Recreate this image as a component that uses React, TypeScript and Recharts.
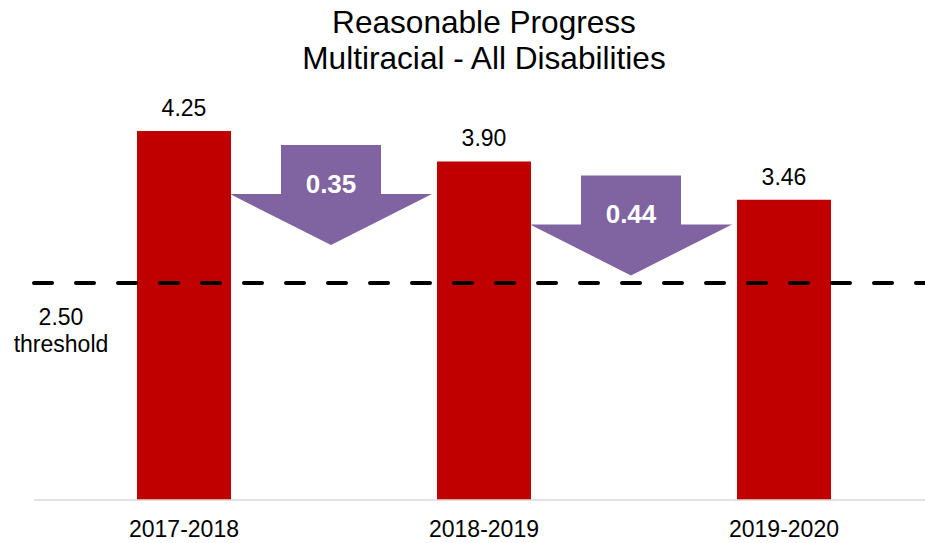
import { Bar, BarChart, LabelList, ReferenceDot, ReferenceLine, XAxis, YAxis } from "recharts"

const years = ["2017-2018", "2018-2019", "2019-2020"]
const scores = [4.25, 3.90, 3.46]
const drops = [0.35, 0.44]
const threshold = 2.5

const FONT = "'Liberation Sans', Arial, sans-serif"

const rows = years.map((year, i) => ({ idx: i, year, score: scores[i] }))

function DownArrow(props: any) {
    const { cx, cy, amount } = props
    const x = cx - 3
    const top = cy + 14
    const shoulder = top + 49
    const tip = shoulder + 51
    const pts = [
        [x - 50, top], [x + 50, top], [x + 50, shoulder], [x + 101, shoulder],
        [x, tip], [x - 101, shoulder], [x - 50, shoulder],
    ].map(p => p.join(",")).join(" ")
    return <g>
        <polygon points={pts} fill="#8064A2" />
        <text x={x} y={top + 39} textAnchor="middle" dominantBaseline="central"
            fill="#fff" fontWeight="bold" fontSize={26} fontFamily={FONT}>{amount.toFixed(2)}</text>
    </g>
}

function ThresholdLabel(props: any) {
    const vb = props.viewBox
    return <g fontFamily={FONT} fontSize={23} fill="#000">
        <text x={vb.x + 27} y={vb.y + 34} textAnchor="middle" dominantBaseline="central">{threshold.toFixed(2)}</text>
        <text x={vb.x + 27} y={vb.y + 61} textAnchor="middle" dominantBaseline="central">threshold</text>
    </g>
}

export default function App() {
    return <div style={{ position: "absolute", left: 0, top: 0, width: 925, height: 543, overflow: "hidden", background: "#fff" }}>
        <div style={{ position: "absolute", left: 0, top: 4, width: 968, textAlign: "center", fontFamily: FONT, fontSize: 31.6, lineHeight: "36px", color: "#000" }}>
            Reasonable Progress<br />Multiracial - All Disabilities
        </div>
        <BarChart width={934} height={543} data={rows} margin={{ top: 66, right: 0, left: 34, bottom: 13 }}>
            <XAxis dataKey="idx" type="number" domain={[-0.5, 2.5]} ticks={[0, 1, 2]}
                tickFormatter={(i: number) => years[i]} height={30} tickLine={false} tickMargin={15}
                axisLine={{ stroke: "#d9d9d9", strokeWidth: 1.5 }}
                tick={{ fontSize: 23, fill: "#000", fontFamily: FONT }} />
            <YAxis hide domain={[0, 5]} />
            <Bar dataKey="score" fill="#C00000" barSize={94} isAnimationActive={false}>
                <LabelList dataKey="score" position="top" offset={15}
                    formatter={(v: any) => Number(v).toFixed(2)}
                    style={{ fontSize: 23, fill: "#000", fontFamily: FONT }} />
            </Bar>
            <ReferenceLine y={threshold} stroke="#000" strokeWidth={4} strokeDasharray="18 24"
                strokeLinecap="round" label={<ThresholdLabel />} />
            {drops.map((d, i) => (
                <ReferenceDot key={i} x={i + 0.5} y={scores[i]} r={0}
                    shape={(p: any) => <DownArrow {...p} amount={d} />} />
            ))}
        </BarChart>
    </div>
}
